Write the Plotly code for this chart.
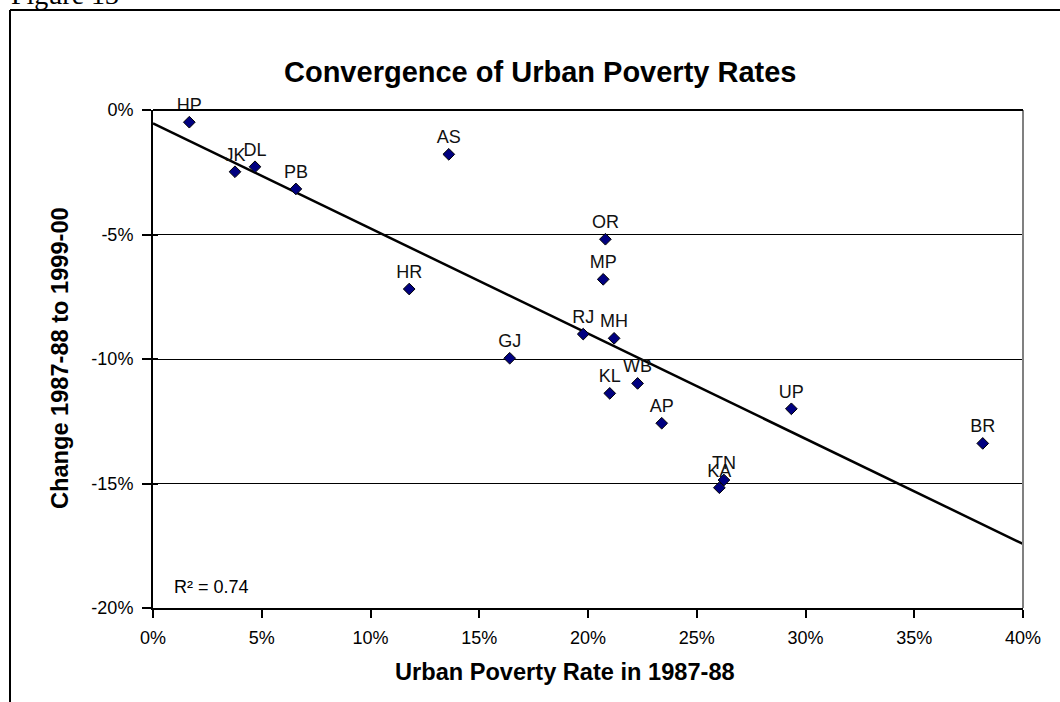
import numpy as np
import plotly.graph_objects as go

# ---- data ----
states = ["HP", "JK", "DL", "PB", "AS", "OR", "MP", "HR", "RJ", "MH",
          "GJ", "KL", "WB", "AP", "UP", "BR", "TN", "KA"]
poverty_1987 = [1.67, 3.77, 4.69, 6.57, 13.6, 20.8, 20.7, 11.78, 19.78, 21.2,
                16.4, 21.0, 22.28, 23.39, 29.35, 38.15, 26.25, 26.04]
change_87_00 = [-0.49, -2.48, -2.28, -3.17, -1.78, -5.19, -6.8, -7.19, -9.0, -9.17,
                -9.97, -11.38, -10.98, -12.58, -12.0, -13.39, -14.86, -15.17]

x_tickvals = [0, 5, 10, 15, 20, 25, 30, 35, 40]
x_ticktext = ["0%", "5%", "10%", "15%", "20%", "25%", "30%", "35%", "40%"]
y_tickvals = [-20, -15, -10, -5, 0]
y_ticktext = ["-20%", "-15%", "-10%", "-5%", "0%"]

title_text = "Convergence of Urban Poverty Rates"
x_title = "Urban Poverty Rate in 1987-88"
y_title = "Change 1987-88 to 1999-00"
r2_text = "R\u00b2 = 0.74"
fig_label = "Figure 13"

# ---- linear trend (OLS) ----
slope, intercept = np.polyfit(poverty_1987, change_87_00, 1)
trend_x = [x_tickvals[0], x_tickvals[-1]]
trend_y = [intercept + slope * v for v in trend_x]

W, H = 1060, 702
def px(x):
    return x / W
def py(y):
    return 1 - y / H

xdom = [px(153), px(1023)]
ydom = [py(608), py(110)]

FONT = "Arial, Liberation Sans, sans-serif"

fig = go.Figure()
fig.add_trace(go.Scatter(x=trend_x, y=trend_y, mode="lines",
                         line=dict(color="black", width=2.5),
                         hoverinfo="skip", showlegend=False))
fig.add_trace(go.Scatter(x=poverty_1987, y=change_87_00, mode="markers+text",
                         text=states, textposition="top center",
                         textfont=dict(family=FONT, size=18, color="#111111"),
                         marker=dict(symbol="diamond", size=9, color="#000080",
                                     line=dict(color="black", width=1)),
                         showlegend=False, cliponaxis=False))
# invisible trace to host inside ticks on secondary y axis
fig.add_trace(go.Scatter(x=[None], y=[None], yaxis="y2", showlegend=False,
                         hoverinfo="skip"))

fig.update_layout(
    width=W, height=H,
    margin=dict(l=0, r=0, t=0, b=0, autoexpand=False),
    paper_bgcolor="white", plot_bgcolor="white",
    font=dict(family=FONT, color="black"),
    xaxis=dict(domain=xdom, range=[0, 40], tickvals=x_tickvals, ticktext=x_ticktext,
               automargin=False,
               showgrid=False, zeroline=False, showline=True, linecolor="black",
               linewidth=2, ticks="outside", ticklen=8, tickwidth=1.5,
               tickcolor="black", tickfont=dict(size=18, family=FONT),
               ticklabelstandoff=4),
    yaxis=dict(domain=ydom, range=[-20, 0], tickvals=y_tickvals, ticktext=y_ticktext,
               automargin=False,
               showgrid=True, gridcolor="black", gridwidth=1, zeroline=False,
               showline=True, linecolor="black", linewidth=2, ticks="outside",
               ticklen=9, tickwidth=1.5, tickcolor="black",
               tickfont=dict(size=18, family=FONT), ticklabelstandoff=5),
    yaxis2=dict(domain=ydom, range=[-20, 0], overlaying="y", anchor="x", side="left",
                automargin=False,
                tickvals=y_tickvals, showticklabels=False, showgrid=False,
                zeroline=False, showline=False, ticks="inside", ticklen=5,
                tickwidth=1.5, tickcolor="black"),
    shapes=[
        # outer frame
        dict(type="line", xref="paper", yref="paper", x0=px(10), x1=1.1,
             y0=py(10), y1=py(10), line=dict(color="black", width=2)),
        dict(type="line", xref="paper", yref="paper", x0=px(10), x1=px(10),
             y0=py(10), y1=-0.1, line=dict(color="black", width=2)),
        # plot area top and right border
        dict(type="line", xref="paper", yref="paper", x0=xdom[1], x1=xdom[1],
             y0=ydom[0], y1=ydom[1], line=dict(color="#808080", width=2)),
        dict(type="line", xref="paper", yref="paper", x0=xdom[0], x1=xdom[1],
             y0=ydom[1], y1=ydom[1], line=dict(color="black", width=2)),
    ],
    annotations=[
        dict(text=title_text, xref="paper", yref="paper", x=px(540), y=py(72),
             xanchor="center", yanchor="middle", showarrow=False,
             font=dict(family=FONT, size=29, color="black", weight="bold")),
        dict(text=x_title, xref="paper", yref="paper", x=px(565), y=py(672),
             xanchor="center", yanchor="middle", showarrow=False,
             font=dict(family=FONT, size=23.6, color="black", weight="bold")),
        dict(text=y_title, xref="paper", yref="paper", x=px(60), y=py(358),
             xanchor="center", yanchor="middle", showarrow=False, textangle=-90,
             font=dict(family=FONT, size=23.6, color="black", weight="bold")),
        dict(text=r2_text, xref="paper", yref="paper", x=px(172), y=py(587),
             xanchor="left", yanchor="middle", showarrow=False,
             font=dict(family=FONT, size=18, color="black")),
        dict(text=fig_label, xref="paper", yref="paper", x=px(9), y=py(12),
             xanchor="left", yanchor="bottom", showarrow=False,
             font=dict(family="Liberation Serif, Times New Roman, serif", size=28,
                       color="black")),
    ],
)

fig.write_html("out.html")
